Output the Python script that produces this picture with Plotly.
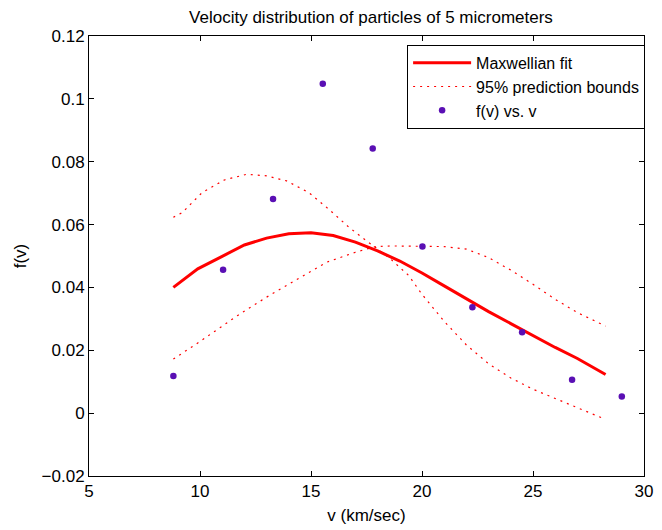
import plotly.graph_objects as go

# Observed data
v_obs = [8.8, 11.04, 13.29, 15.53, 17.78, 20.02, 22.27, 24.51, 26.76, 29.0]
f_obs = [0.0118, 0.0456, 0.0681, 0.1048, 0.0842, 0.0530, 0.0337, 0.0257, 0.0106, 0.0053]

# Maxwellian fit
v_fit = [8.8, 9.9, 11.0, 12.0, 13.0, 14.0, 15.0, 16.0, 17.0, 18.0, 19.0, 20.0,
         21.0, 22.0, 23.0, 24.0, 25.0, 26.0, 27.0, 28.27]
f_fit = [0.0400, 0.0459, 0.0499, 0.0535, 0.0557, 0.0571, 0.0574, 0.0565, 0.0544,
         0.0516, 0.0484, 0.0446, 0.0405, 0.0364, 0.0323, 0.0285, 0.0247, 0.0209,
         0.0174, 0.0123]

# Prediction bounds (two branches)
v_bndA = [8.8, 9.2, 10.1, 11.1, 12.1, 13.0, 13.9, 14.9, 15.8, 16.7, 17.6, 18.5,
          19.4, 20.0, 21.0, 22.0, 23.0, 24.0, 25.0, 26.0, 27.0, 28.27]
f_bndA = [0.0623, 0.0638, 0.0702, 0.0742, 0.0760, 0.0755, 0.0739, 0.0702, 0.0649,
          0.0592, 0.0543, 0.0496, 0.0438, 0.0378, 0.0292, 0.0217, 0.0157, 0.0112,
          0.0076, 0.0046, 0.0017, -0.0020]
v_bndB = [8.8, 10.0, 11.7, 13.0, 14.4, 15.7, 17.0, 17.9, 18.6, 20.1, 21.0, 22.0,
          23.0, 24.0, 25.0, 26.0, 27.0, 28.27]
f_bndB = [0.0172, 0.0228, 0.0311, 0.0369, 0.0427, 0.0480, 0.0512, 0.0530, 0.0532,
          0.0532, 0.0530, 0.0522, 0.0495, 0.0455, 0.0410, 0.0362, 0.0320, 0.0277]

x_ticks = [5, 10, 15, 20, 25, 30]
y_ticks = [-0.02, 0, 0.02, 0.04, 0.06, 0.08, 0.1, 0.12]
y_ticklabels = ["\u22120.02", "0", "0.02", "0.04", "0.06", "0.08", "0.1", "0.12"]

FONT = "Liberation Sans, Arial, Helvetica, sans-serif"
FS = 17
dot_style = dict(color="red", width=1.2, dash="2px,5px")

fig = go.Figure()
fig.add_trace(go.Scatter(x=v_fit, y=f_fit, mode="lines", name="Maxwellian fit",
                         line=dict(color="red", width=3)))
fig.add_trace(go.Scatter(x=v_bndA, y=f_bndA, mode="lines", name="95% prediction bounds",
                         line=dot_style, legendgroup="b"))
fig.add_trace(go.Scatter(x=v_bndB, y=f_bndB, mode="lines", name="95% prediction bounds",
                         line=dot_style, legendgroup="b", showlegend=False))
fig.add_trace(go.Scatter(x=v_obs, y=f_obs, mode="markers", name="f(v) vs. v",
                         marker=dict(color="#5a0fb4", size=6.5)))

axis_common = dict(showline=True, linecolor="black", linewidth=1, mirror="ticks",
                   ticks="inside", ticklen=5, tickcolor="black", showgrid=False,
                   zeroline=False, tickfont=dict(size=FS, color="black", family=FONT))

fig.update_layout(
    width=662, height=530,
    margin=dict(l=89, r=9, t=36, b=52),
    paper_bgcolor="white", plot_bgcolor="white",
    font=dict(family=FONT, color="black"),
    title=dict(text="Velocity distribution of particles of 5 micrometers",
               x=(89 + 653) / 2 / 662, xanchor="center", y=1 - 17 / 530, yanchor="middle",
               font=dict(size=FS)),
    xaxis=dict(range=[5, 30], tickvals=x_ticks, ticktext=[str(t) for t in x_ticks],
               title=dict(text="v (km/sec)", font=dict(size=FS), standoff=8),
               **axis_common),
    yaxis=dict(range=[-0.02, 0.12], tickvals=y_ticks, ticktext=y_ticklabels,
               title=dict(text="f(v)", font=dict(size=FS), standoff=10),
               **axis_common),
    legend=dict(x=1.002, xanchor="right", y=0.98, yanchor="top",
                bordercolor="black", borderwidth=1, bgcolor="white",
                font=dict(size=16, family=FONT), itemwidth=58,
                tracegroupgap=0),
    showlegend=True,
)

fig.write_html("out.html")
